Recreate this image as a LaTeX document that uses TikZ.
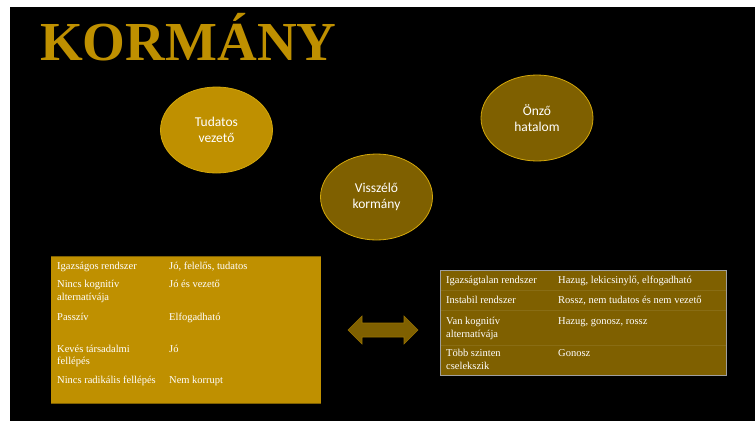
\documentclass[tikz,border=0pt]{standalone}
\usepackage{fontspec}
\setmainfont{Liberation Serif}
\newfontfamily\calib{Carlito}
\usetikzlibrary{shapes.geometric}
\definecolor{goldA}{HTML}{BF9000}
\definecolor{goldB}{HTML}{7F6000}
\definecolor{goldL}{HTML}{D4A80A}
\tikzset{
  x=1pt, y=-1pt,
  oval/.style={ellipse, minimum width=112pt, minimum height=86pt, inner sep=0pt,
    draw=goldL, line width=0.8pt, text=white, align=center,
    font=\calib\fontsize{13.5}{16.5}\selectfont},
  cell/.style={anchor=base west, inner sep=0pt, text=white,
    font=\fontsize{10.5}{12}\selectfont},
  sep/.style={goldB!92!white, line width=0.3pt},
}
\begin{document}
\begin{tikzpicture}
\useasboundingbox (0,0) rectangle (755,421);
\fill[white] (0,0) rectangle (755,421);
\fill[black] (10,7) rectangle (755,421);
% title
\node[anchor=base west, inner sep=0pt, text=goldA,
  font=\bfseries\fontsize{55}{55}\selectfont] (title) at (40,60) {KORMÁNY};
% ellipses
\node[oval, fill=goldA] (tud) at (216.5,130) {Tudatos\\vezető};
\node[oval, fill=goldB] (onz) at (537,118) {Önző\\hatalom};
\node[oval, fill=goldB] (vis) at (376.5,197) {Visszélő\\kormány};
% left table
\fill[goldA] (51,256) rectangle (321,403);
\draw[goldB, line width=1pt] (51,256) -- (321,256);
\draw[goldB, line width=1pt] (51,403) -- (321,403);
\node[cell] (l1a) at (57,269) {Igazságos rendszer};
\node[cell] (l1b) at (169,269) {Jó, felelős, tudatos};
\node[cell] (l2a) at (57,287) {Nincs kognitív};
\node[cell] (l2c) at (57,300) {alternatívája};
\node[cell] (l2b) at (169,287) {Jó és vezető};
\node[cell] (l3a) at (57,320) {Passzív};
\node[cell] (l3b) at (169,320) {Elfogadható};
\node[cell] (l4a) at (57,352) {Kevés társadalmi};
\node[cell] (l4c) at (57,364) {fellépés};
\node[cell] (l4b) at (169,352) {Jó};
\node[cell] (l5a) at (57,383) {Nincs radikális fellépés};
\node[cell] (l5b) at (169,383) {Nem korrupt};
% right table
\fill[goldB] (440,270) rectangle (726,375);
\draw[sep] (440,290) -- (726,290);
\draw[sep] (440,310) -- (726,310);
\draw[sep] (440,345) -- (726,345);
\draw[gray!75, line width=0.8pt] (440,270) rectangle (726,375);
\node[cell] (r1a) at (446,283) {Igazságtalan rendszer};
\node[cell] (r1b) at (558,283) {Hazug, lekicsinylő, elfogadható};
\node[cell] (r2a) at (446,303) {Instabil rendszer};
\node[cell] (r2b) at (558,303) {Rossz, nem tudatos és nem vezető};
\node[cell] (r3a) at (446,324) {Van kognitív};
\node[cell] (r3c) at (446,337) {alternatívája};
\node[cell] (r3b) at (558,324) {Hazug, gonosz, rossz};
\node[cell] (r4a) at (446,356) {Több szinten};
\node[cell] (r4c) at (446,369) {cselekszik};
\node[cell] (r4b) at (558,356) {Gonosz};
% double arrow
\filldraw[fill=goldB, draw=goldA!80!black, line width=0.6pt, line join=miter]
  (348,330) -- (362,316) -- (362,323) -- (404,323) -- (404,316) -- (418,330)
  -- (404,344) -- (404,337) -- (362,337) -- (362,344) -- cycle;
\end{tikzpicture}
\end{document}
